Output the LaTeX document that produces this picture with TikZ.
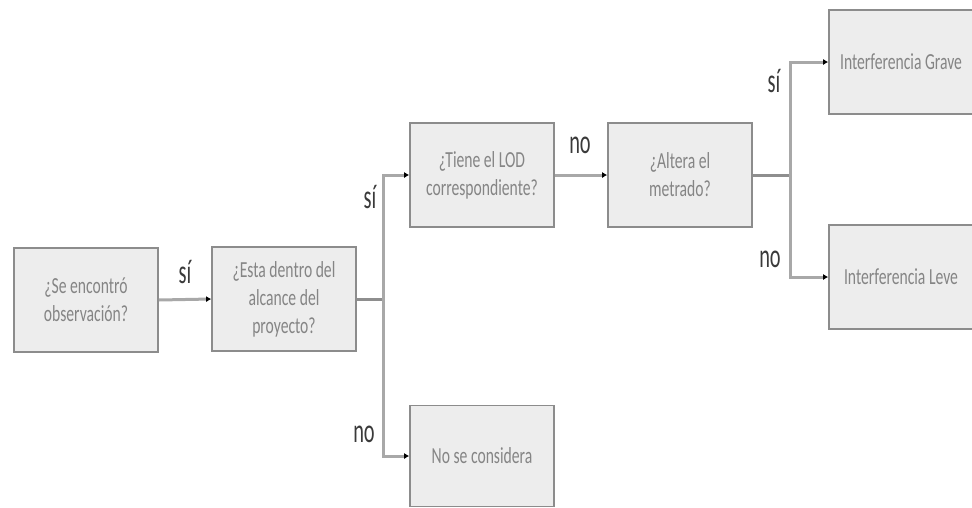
\documentclass[tikz,border=0pt]{standalone}
\usepackage{fontspec}
\usetikzlibrary{arrows.meta}
\newfontfamily\boxfont[FakeStretch=0.68]{Carlito}
\newfontfamily\lblfont[FakeStretch=0.6]{Carlito}
\definecolor{boxfill}{HTML}{EDEDED}
\definecolor{boxline}{HTML}{8C8C8C}
\definecolor{conn}{HTML}{A8A8A8}
\definecolor{conndark}{HTML}{8E8E8E}
\definecolor{boxtext}{HTML}{858585}
\definecolor{lbl}{HTML}{3A3A3A}
\tikzset{
  qbox/.style={draw=boxline, fill=boxfill, line width=1.6pt, minimum width=144pt, minimum height=104pt,
    align=center, text=boxtext, inner sep=2pt, font=\boxfont\fontsize{23}{28}\selectfont},
  conline/.style={draw=conn, line width=3pt},
  stem/.style={draw=conndark, line width=3pt},
  arr/.style={conline, -{Latex[black,length=5pt,width=6pt]}},
  lab/.style={text=lbl, font=\lblfont\fontsize{34}{34}\selectfont, inner sep=0pt}
}
\begin{document}
\begin{tikzpicture}[x=1pt,y=-1pt]
\useasboundingbox (0,0) rectangle (972,507);
\clip (0,0) rectangle (972,507);
\node[qbox] (b1) at (86,300) {¿Se encontró\\observación?};
\node[qbox] (b2) at (284,299) {¿Esta dentro del\\alcance del\\proyecto?};
\node[qbox] (b3) at (482,175) {¿Tiene el LOD\\correspondiente?};
\node[qbox] (b4) at (680,175) {¿Altera el\\metrado?};
\node[qbox] (b5) at (901,62) {Interferencia Grave};
\node[qbox] (b6) at (901,277) {Interferencia Leve};
\node[qbox, minimum height=101pt] (b7) at (482,456) {No se considera};
\coordinate (j1) at (383,299);
\coordinate (j2) at (790,175);
\draw[arr] (b1.east) -- (b2.west);
\draw[stem] (b2.east) -- (j1);
\draw[arr] (j1) |- (b3.west);
\draw[arr] (j1) |- (b7.west);
\draw[arr] (b3.east) -- (b4.west);
\draw[stem] (b4.east) -- (j2);
\draw[arr] (j2) |- (b5.west);
\draw[arr] (j2) |- (b6.west);
\node[lab] (l1) at (185,272) {sí};
\node[lab] (l2) at (370,197) {sí};
\node[lab] (l3) at (364,434) {no};
\node[lab] (l4) at (580,145) {no};
\node[lab] (l5) at (774,81) {sí};
\node[lab] (l6) at (770,259) {no};
\end{tikzpicture}
\end{document}
